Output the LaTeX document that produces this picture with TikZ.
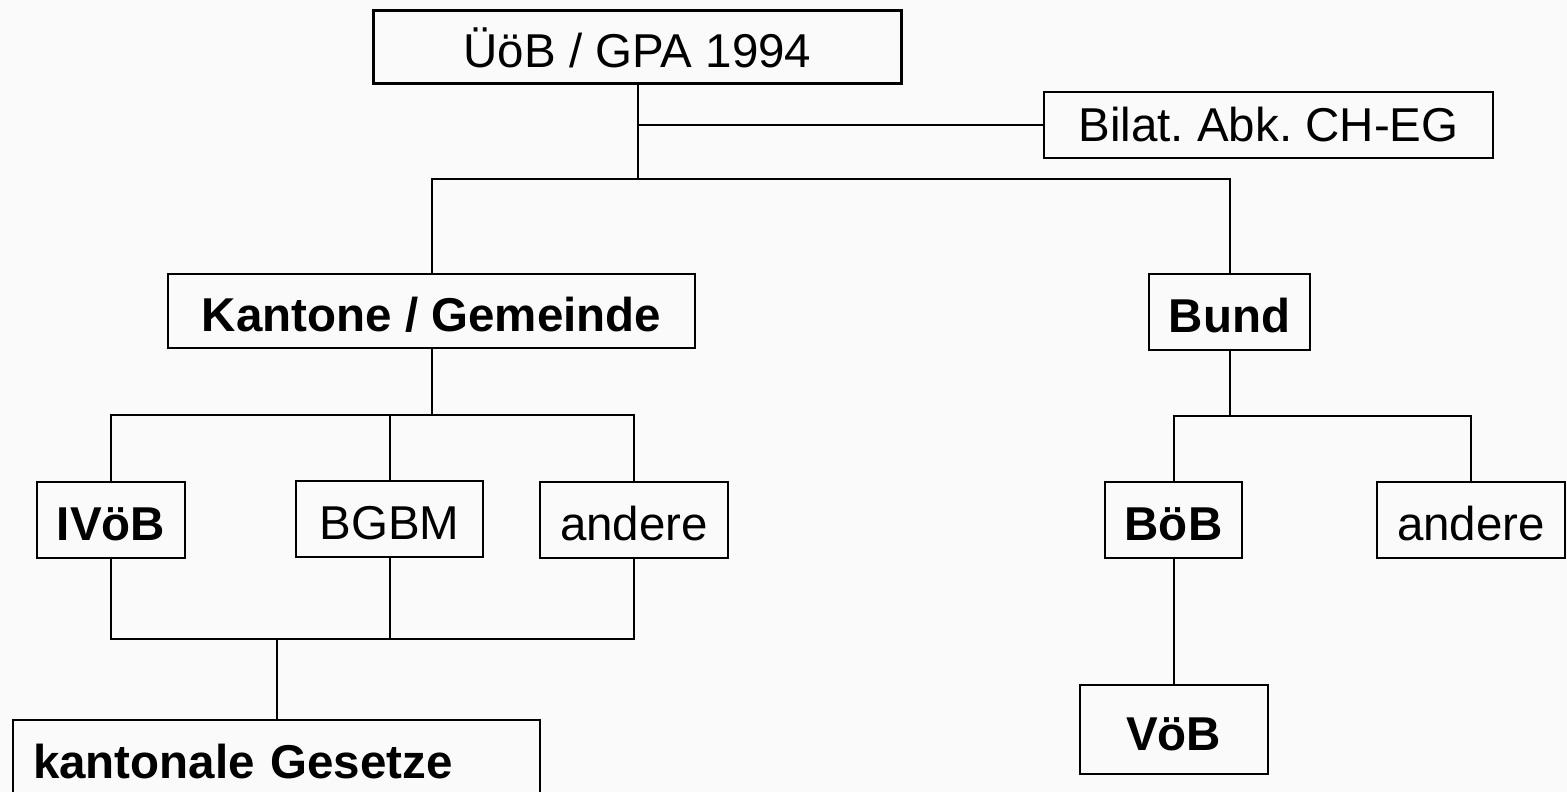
\documentclass[tikz,border=0pt]{standalone}
\usepackage{fontspec}
\setmainfont{Liberation Sans}
\usetikzlibrary{positioning}
\definecolor{paper}{HTML}{FAFAFA}
\frenchspacing

\begin{document}
\begin{tikzpicture}[
  x=1pt, y=-1pt,
  box/.style={draw, line width=2pt, inner sep=0pt, minimum height=76pt,
              text height=46pt, text depth=5pt,
              font=\fontsize{47.5}{56}\selectfont},
  boldbox/.style={box, font=\fontsize{47.5}{56}\selectfont\bfseries},
  link/.style={line width=2pt}
]
  \useasboundingbox (0,0) rectangle (1567,792);
  \fill[paper] (0,0) rectangle (1567,792);

  \node[box, line width=3pt, minimum width=528pt, minimum height=73pt] (ueob) at (637.5,47) {ÜöB / GPA 1994};
  \node[box, minimum width=449pt, minimum height=65pt, text height=40pt, text depth=7pt] (bilat) at (1268.5,125) {Bilat. Abk. CH-EG};

  \node[boldbox, minimum width=527pt, minimum height=74pt] (kant) at (431.5,311) {Kantone / Gemeinde};
  \node[boldbox, minimum width=161pt] (bund) at (1229.5,312) {Bund};

  \node[boldbox, minimum width=148pt] (ivoeb) at (111,520) {IVöB};
  \node[box, minimum width=187pt] (bgbm) at (389.5,519) {BGBM};
  \node[box, minimum width=188pt] (andk) at (634,520) {andere};
  \node[boldbox, minimum width=137pt] (boeb) at (1173.5,520) {BöB};
  \node[box, minimum width=188pt] (andb) at (1471,520) {andere};

  \node[boldbox, minimum width=188pt, minimum height=89pt] (voeb) at (1173.5,729.5) {VöB};
  \node[boldbox, minimum width=527pt, text width=487pt, align=left] (gesetze) at (276.5,758) {kantonale Gesetze};

  \coordinate (topbus) at (637.5,179);
  \coordinate (kbus) at (431.5,415);
  \coordinate (bbus) at (1229.5,416);
  \coordinate (lbus) at (276.5,639);

  \draw[link] (ueob.south) -- (topbus);
  \draw[link] (bilat.west) -- (bilat.west -| ueob.south);
  \draw[link] (kant.north) |- (bund.north |- topbus) -- (bund.north);

  \draw[link] (kant.south) -- (kbus);
  \draw[link] (ivoeb.north) |- (andk.north |- kbus) -- (andk.north);
  \draw[link] (bgbm.north) -- (bgbm.north |- kbus);

  \draw[link] (ivoeb.south) |- (andk.south |- lbus) -- (andk.south);
  \draw[link] (bgbm.south) -- (bgbm.south |- lbus);
  \draw[link] (gesetze.north) -- (lbus);

  \draw[link] (bund.south) -- (bbus);
  \draw[link] (boeb.north) |- (andb.north |- bbus) -- (andb.north);
  \draw[link] (boeb.south) -- (voeb.north);
\end{tikzpicture}
\end{document}
